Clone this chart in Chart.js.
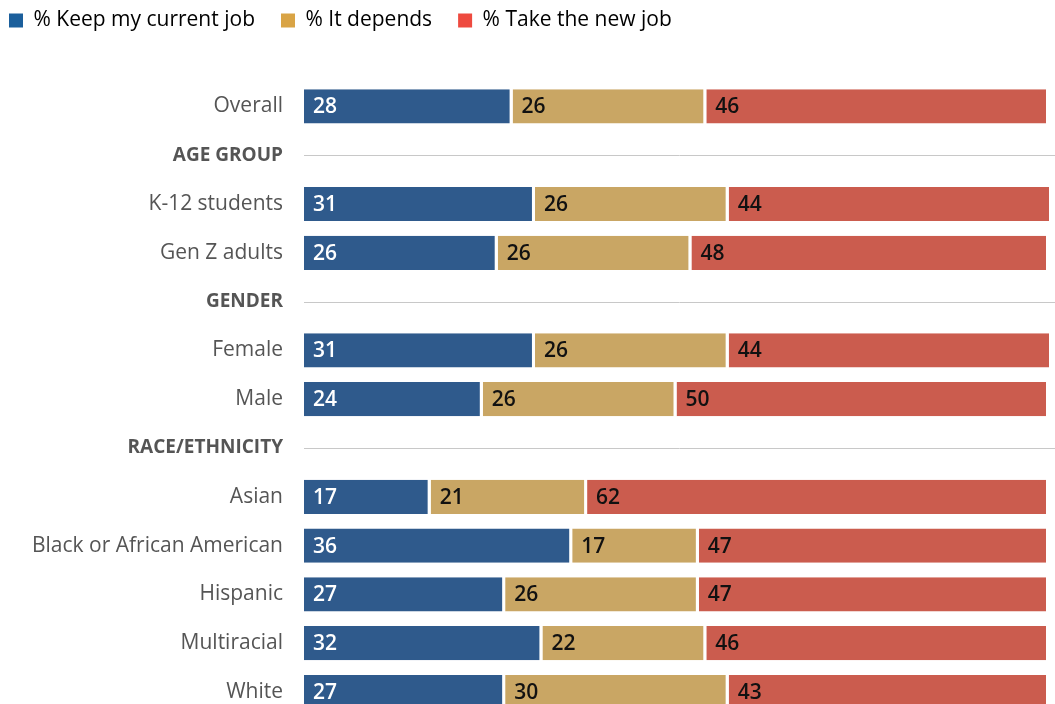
<!DOCTYPE html>
<html>
<head>
<meta charset="utf-8">
<script src="https://cdn.jsdelivr.net/npm/chart.js@4"></script>
<style>
    html, body { margin: 0; padding: 0; background: #fff; overflow: hidden; }
    #wrap { width: 1055px; height: 704px; overflow: hidden; }
</style>
</head>
<body>
<div id="wrap"><canvas id="jobChart" width="1055" height="750"></canvas></div>
<script>
// Rows of the chart, group headers have no values
var categories = ['Overall', 'AGE GROUP', 'K-12 students', 'Gen Z adults', 'GENDER', 'Female', 'Male',
    'RACE/ETHNICITY', 'Asian', 'Black or African American', 'Hispanic', 'Multiracial', 'White'];
var headerRows = ['AGE GROUP', 'GENDER', 'RACE/ETHNICITY'];

var keepJob = [28, null, 31, 26, null, 31, 24, null, 17, 36, 27, 32, 27];
var itDepends = [26, null, 26, 26, null, 26, 26, null, 21, 17, 26, 22, 30];
var takeNewJob = [46, null, 44, 48, null, 44, 50, null, 62, 47, 47, 46, 43];

var seriesNames = ['% Keep my current job', '% It depends', '% Take the new job'];
var barColors = ['#2f5a8c', '#c9a664', '#cb5c4e'];
var legendColors = ['#1b5f9c', '#d9a445', '#ee4a3f'];
var valueColors = ['#ffffff', '#111111', '#111111'];

function isHeader(i) {
    return headerRows.indexOf(categories[i]) !== -1;
}

// Thin rule next to each group header
var headerLines = {
    id: 'headerLines',
    beforeDatasetsDraw: function (chart) {
        var ctx = chart.ctx;
        var y = chart.scales.y;
        ctx.save();
        ctx.strokeStyle = '#c8c8c8';
        ctx.lineWidth = 1;
        for (var i = 0; i < categories.length; i++) {
            if (!isHeader(i)) continue;
            var py = Math.round(y.getPixelForValue(i)) + 0.5;
            ctx.beginPath();
            ctx.moveTo(chart.chartArea.left, py);
            ctx.lineTo(chart.width, py);
            ctx.stroke();
        }
        ctx.restore();
    }
};

// Value labels at the start of each segment
var segmentLabels = {
    id: 'segmentLabels',
    afterDatasetsDraw: function (chart) {
        var ctx = chart.ctx;
        ctx.save();
        ctx.font = '600 21px "Open Sans"';
        ctx.textAlign = 'left';
        ctx.textBaseline = 'middle';
        chart.data.datasets.forEach(function (ds, d) {
            var meta = chart.getDatasetMeta(d);
            meta.data.forEach(function (bar, i) {
                var v = ds.data[i];
                if (v === null) return;
                ctx.fillStyle = valueColors[d];
                ctx.fillText(String(v), Math.min(bar.base, bar.x) + 9, bar.y + 1);
            });
        });
        ctx.restore();
    }
};

// Extra room under the legend
var legendSpace = {
    id: 'legendSpace',
    beforeInit: function (chart) {
        var fit = chart.legend.fit;
        chart.legend.fit = function () {
            fit.bind(chart.legend)();
            this.height += 41;
        };
    }
};

var ctx = document.getElementById('jobChart').getContext('2d');
new Chart(ctx, {
    type: 'bar',
    data: {
        labels: categories,
        datasets: [keepJob, itDepends, takeNewJob].map(function (vals, k) {
            return {
                label: seriesNames[k],
                data: vals,
                backgroundColor: barColors[k],
                borderColor: '#ffffff',
                borderWidth: {left: 0, right: 3, top: 0, bottom: 0},
                borderSkipped: false,
                barPercentage: 0.7,
                categoryPercentage: 1.0
            };
        })
    },
    options: {
        indexAxis: 'y',
        responsive: false,
        animation: false,
        layout: {padding: {left: -17, right: 6, top: -16, bottom: 0}},
        plugins: {
            tooltip: {enabled: false},
            legend: {
                position: 'top',
                align: 'start',
                labels: {
                    boxWidth: 14,
                    boxHeight: 14,
                    padding: 26,
                    color: '#333333',
                    font: {size: 21, family: 'Open Sans'},
                    generateLabels: function () {
                        return seriesNames.map(function (name, k) {
                            return {
                                text: name,
                                fillStyle: legendColors[k],
                                strokeStyle: legendColors[k],
                                lineWidth: 0,
                                datasetIndex: k
                            };
                        });
                    }
                }
            }
        },
        scales: {
            x: {
                stacked: true,
                display: false,
                min: 0,
                max: 100
            },
            y: {
                stacked: true,
                grid: {display: false, drawTicks: false},
                border: {display: false},
                afterFit: function (scale) {
                    scale.width = 321;
                },
                ticks: {
                    padding: 21,
                    autoSkip: false,
                    color: '#555555',
                    font: function (c) {
                        if (isHeader(c.index)) {
                            return {size: 19, weight: 'bold', family: 'Open Sans'};
                        }
                        return {size: 21, family: 'Open Sans'};
                    }
                }
            }
        }
    },
    plugins: [headerLines, segmentLabels, legendSpace]
});
</script>
</body>
</html>
